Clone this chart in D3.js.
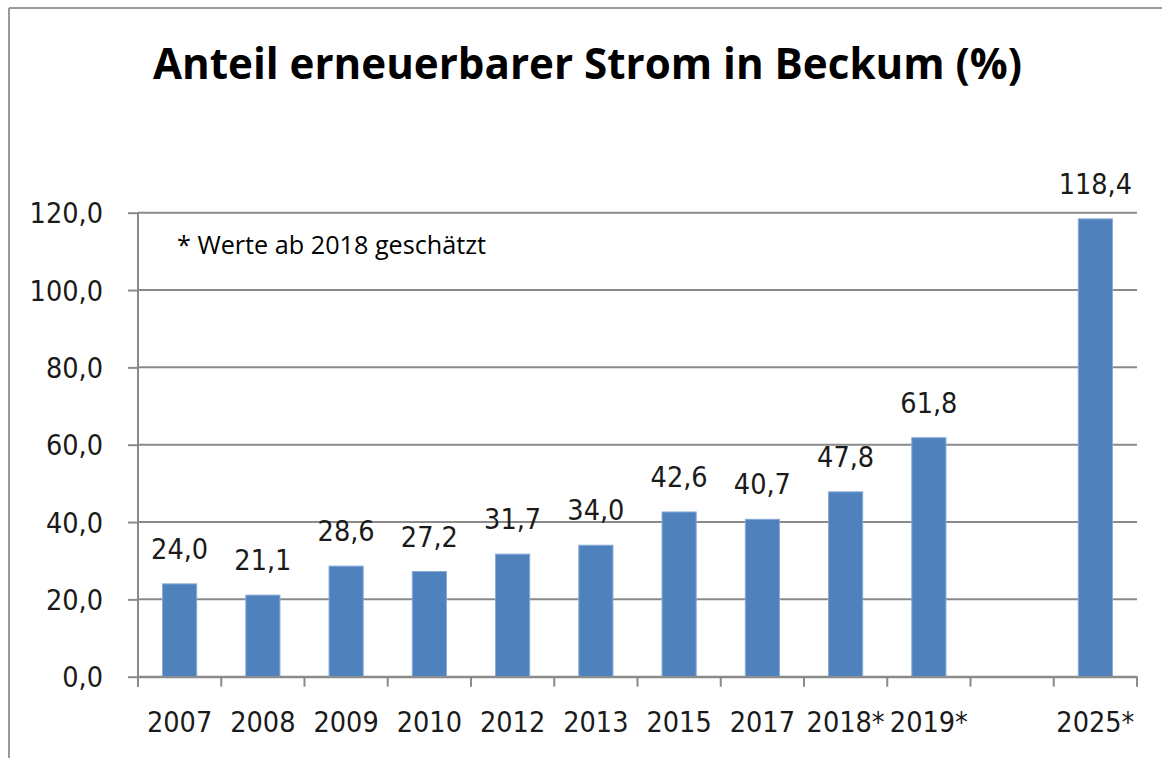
<!DOCTYPE html>
<html>
	<head>
		<meta charset="utf-8">
		<script type="text/javascript" src="https://cdn.jsdelivr.net/npm/d3@7"></script>
		<style>
			body{
				margin:0;
				background:#fff;
			}
			svg{
				display:block;
			}
			.num{
				font-family:"DejaVu Sans Condensed","DejaVu Sans",sans-serif;
				font-stretch:condensed;
				font-size:28.5px;
				fill:#1a1a1a;
			}
			.axis path, .axis line, .grid line{
				stroke:#8a8a8a;
				stroke-width:2;
			}
		</style>
	</head>
	<body>
		<div id="container"></div>
		<script type="text/javascript">

			// data
			var categories = ["2007", "2008", "2009", "2010", "2012", "2013", "2015", "2017", "2018*", "2019*", "", "2025*"];
			var values = [24.0, 21.1, 28.6, 27.2, 31.7, 34.0, 42.6, 40.7, 47.8, 61.8, null, 118.4];
			var yTicks = [0, 20, 40, 60, 80, 100, 120];
			var titleText = "Anteil erneuerbarer Strom in Beckum (%)";
			var noteText = "* Werte ab 2018 geschätzt";

			var fmt = function(v){ return d3.format(".1f")(v).replace(".", ","); };

			var svg = d3.select("#container")
				.append("svg")
					.attr("width", 1162)
					.attr("height", 758);

			// outer frame (only left and top are visible)
			svg.append("line").attr("x1", 9).attr("y1", 8).attr("x2", 1162).attr("y2", 8)
				.attr("stroke", "#9a9a9a").attr("stroke-width", 2);
			svg.append("line").attr("x1", 9).attr("y1", 8).attr("x2", 9).attr("y2", 758)
				.attr("stroke", "#9a9a9a").attr("stroke-width", 2);

			svg.append("text")
				.attr("x", 587.5)
				.attr("y", 79)
				.attr("text-anchor", "middle")
				.attr("textLength", 869)
				.attr("lengthAdjust", "spacingAndGlyphs")
				.style("font-family", "'Open Sans', sans-serif")
				.style("font-weight", "bold")
				.style("font-size", "43px")
				.attr("fill", "#000")
				.text(titleText);

			var plotL = 138, plotR = 1137, plotT = 212.7, plotB = 676.7;

			var x = d3.scaleBand()
				.domain(categories)
				.range([plotL, plotR])
				.padding(0);

			var y = d3.scaleLinear()
				.domain([0, 120])
				.range([plotB, plotT]);

			var barW = x.bandwidth() * 0.41;

			// gridlines
			svg.append("g")
				.attr("class", "grid")
				.selectAll("line").data(yTicks).enter().append("line")
					.attr("x1", plotL)
					.attr("x2", plotR)
					.attr("y1", function(d){ return y(d); })
					.attr("y2", function(d){ return y(d); });

			// bars
			var shown = categories.map(function(c, i){ return {cat:c, val:values[i]}; })
				.filter(function(d){ return d.val !== null; });

			svg.append("g").selectAll("rect").data(shown).enter().append("rect")
				.attr("x", function(d){ return x(d.cat) + x.bandwidth()/2 - barW/2; })
				.attr("y", function(d){ return y(d.val); })
				.attr("width", barW)
				.attr("height", function(d){ return y(0) - y(d.val); })
				.attr("fill", "#4f81bd")
				.attr("stroke", "#86a9d6")
				.attr("stroke-width", 1);

			// value labels
			svg.append("g").selectAll("text").data(shown).enter().append("text")
				.attr("class", "num")
				.attr("x", function(d){ return x(d.cat) + x.bandwidth()/2; })
				.attr("y", function(d){ return y(d.val) - 25; })
				.attr("text-anchor", "middle")
				.text(function(d){ return fmt(d.val); });

			// y axis
			var yAxis = d3.axisLeft(y)
				.tickValues(yTicks)
				.tickSize(10)
				.tickSizeOuter(0)
				.tickPadding(25)
				.tickFormat(fmt);

			var gy = svg.append("g")
				.attr("class", "axis")
				.attr("transform", "translate(" + plotL + ",0)")
				.call(yAxis);
			gy.select(".domain").attr("d", "M0," + plotT + "V" + (plotB + 10));
			gy.selectAll("text").attr("class", "num").attr("dy", "0.36em");

			// x axis: labels centred in slots, ticks on slot boundaries
			var xAxis = d3.axisBottom(x)
				.tickSize(0)
				.tickSizeOuter(0)
				.tickPadding(35);

			var gx = svg.append("g")
				.attr("class", "axis")
				.attr("transform", "translate(0," + plotB + ")")
				.call(xAxis);
			gx.selectAll(".tick line").remove();
			gx.selectAll("text").attr("class", "num").attr("dy", "0.71em");

			var bounds = categories.map(function(c){ return x(c); }).concat([plotR]);
			gx.selectAll("line.bound").data(bounds).enter().append("line")
				.attr("class", "bound")
				.attr("x1", function(d){ return d; })
				.attr("x2", function(d){ return d; })
				.attr("y1", 0)
				.attr("y2", 10);

			// note
			svg.append("text")
				.attr("x", 177)
				.attr("y", 254)
				.attr("textLength", 309)
				.attr("lengthAdjust", "spacingAndGlyphs")
				.style("font-family", "'Open Sans', sans-serif")
				.style("font-size", "25px")
				.attr("fill", "#000")
				.text(noteText);

		</script>
	</body>
</html>
